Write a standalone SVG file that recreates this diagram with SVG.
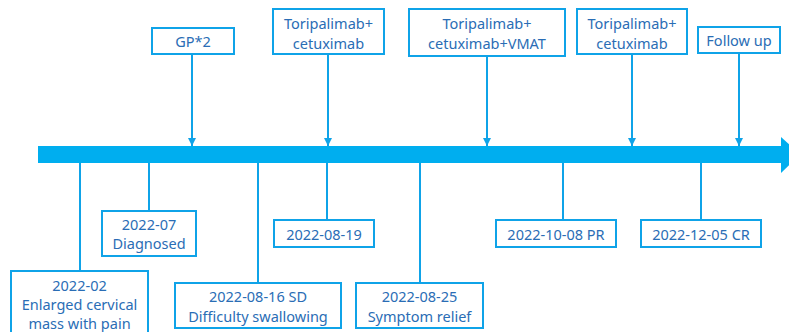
<svg xmlns="http://www.w3.org/2000/svg" width="789" height="332" viewBox="0 0 789 332">
<style>
.box{fill:#fff;stroke:#0FA3E8;stroke-width:2}
.t{font-family:"Noto Sans","Liberation Sans",sans-serif;font-size:14.5px;fill:#2A6DB5;text-anchor:middle;dominant-baseline:central}
.c{stroke:#0FA3E8;stroke-width:2;fill:none}
</style>
<defs>
<marker id="ah" viewBox="0 0 10 10" refX="10" refY="5" markerWidth="4" markerHeight="4" orient="auto" markerUnits="strokeWidth">
<path d="M0,0 L10,5 L0,10 z" fill="#0FA3E8"/>
</marker>
</defs>
<g id="timeline">
<rect x="38" y="146" width="745" height="17" fill="#00AEEF"/>
<polygon points="781,137 800,154.5 781,173" fill="#00AEEF"/>
</g>
<g id="connectors">
<line class="c" x1="192" y1="54" x2="192" y2="146" marker-end="url(#ah)"/>
<line class="c" x1="328" y1="54" x2="328" y2="146" marker-end="url(#ah)"/>
<line class="c" x1="487" y1="56" x2="487" y2="146" marker-end="url(#ah)"/>
<line class="c" x1="632" y1="54" x2="632" y2="146" marker-end="url(#ah)"/>
<line class="c" x1="739" y1="53" x2="739" y2="146" marker-end="url(#ah)"/>
<line class="c" x1="80" y1="163" x2="80" y2="271"/>
<line class="c" x1="149" y1="163" x2="149" y2="211"/>
<line class="c" x1="258" y1="163" x2="258" y2="283"/>
<line class="c" x1="327" y1="163" x2="327" y2="220"/>
<line class="c" x1="420" y1="163" x2="420" y2="283"/>
<line class="c" x1="563" y1="163" x2="563" y2="220"/>
<line class="c" x1="701" y1="163" x2="701" y2="220"/>
</g>
<g id="gp2">
<rect class="box" x="152" y="28" width="82" height="26"/>
<text class="t" x="193" y="41">GP*2</text>
</g>
<g id="tc1">
<rect class="box" x="273" y="9" width="111" height="45"/>
<text class="t" x="328.5" y="23">Toripalimab+</text>
<text class="t" x="328.5" y="43">cetuximab</text>
</g>
<g id="tcv">
<rect class="box" x="409" y="9" width="156" height="47"/>
<text class="t" x="487" y="23">Toripalimab+</text>
<text class="t" x="487" y="43">cetuximab+VMAT</text>
</g>
<g id="tc2">
<rect class="box" x="577" y="9" width="110" height="45"/>
<text class="t" x="632" y="23">Toripalimab+</text>
<text class="t" x="632" y="43">cetuximab</text>
</g>
<g id="follow">
<rect class="box" x="698" y="27" width="82" height="26"/>
<text class="t" x="739" y="40">Follow up</text>
</g>
<g id="d202202">
<rect class="box" x="11" y="271" width="137" height="66"/>
<text class="t" x="79.5" y="285">2022-02</text>
<text class="t" x="79.5" y="304">Enlarged cervical</text>
<text class="t" x="79.5" y="323">mass with pain</text>
</g>
<g id="d202207">
<rect class="box" x="102" y="211" width="94" height="45"/>
<text class="t" x="149" y="224">2022-07</text>
<text class="t" x="149" y="243">Diagnosed</text>
</g>
<g id="d20220816">
<rect class="box" x="175" y="283" width="166" height="45"/>
<text class="t" x="258" y="296">2022-08-16 SD</text>
<text class="t" x="258" y="316">Difficulty swallowing</text>
</g>
<g id="d20220819">
<rect class="box" x="274" y="220" width="100" height="27"/>
<text class="t" x="324" y="233.5">2022-08-19</text>
</g>
<g id="d20220825">
<rect class="box" x="356" y="283" width="127" height="45"/>
<text class="t" x="419.5" y="296">2022-08-25</text>
<text class="t" x="419.5" y="316">Symptom relief</text>
</g>
<g id="d20221008">
<rect class="box" x="496" y="220" width="120" height="27"/>
<text class="t" x="556" y="233.5">2022-10-08 PR</text>
</g>
<g id="d20221205">
<rect class="box" x="641" y="220" width="120" height="27"/>
<text class="t" x="701" y="233.5">2022-12-05 CR</text>
</g>
</svg>
